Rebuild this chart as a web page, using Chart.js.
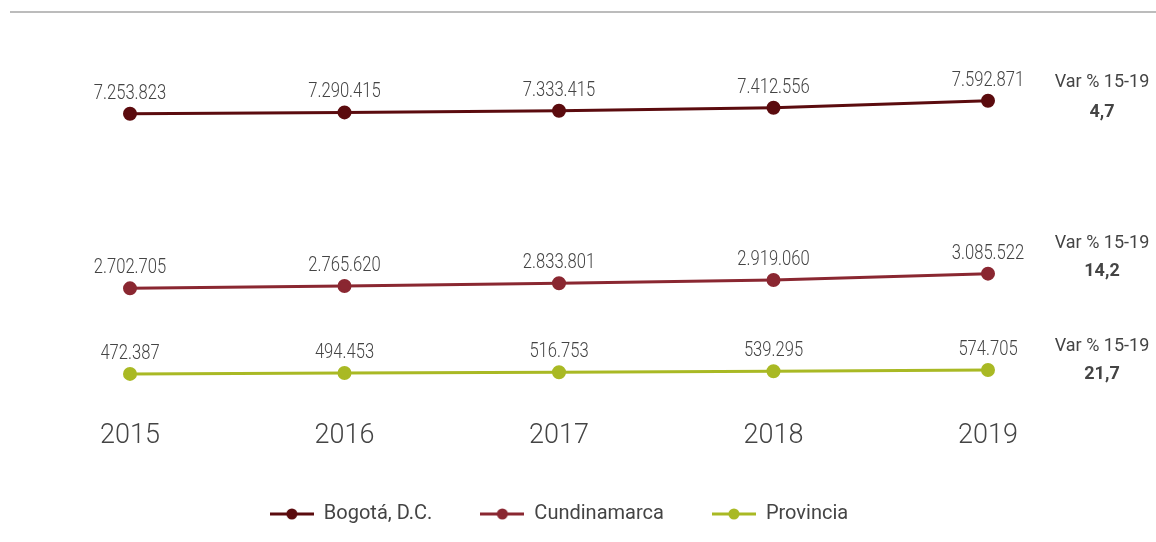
<!DOCTYPE html>
<html>
<head>
<meta charset="utf-8">
<script src="https://cdn.jsdelivr.net/npm/chart.js@4"></script>
<style>
html,body{margin:0;padding:0;background:#fff;}
#wrap{width:1156px;height:542px;position:relative;}
</style>
</head>
<body>
<div id="wrap"><canvas id="c" width="1156" height="542"></canvas></div>
<script>
const years = ['2015', '2016', '2017', '2018', '2019'];
const seriesNames = ['Bogotá, D.C.', 'Cundinamarca', 'Provincia'];
const bogota = [7253823, 7290415, 7333415, 7412556, 7592871];
const cundinamarca = [2702705, 2765620, 2833801, 2919060, 3085522];
const provincia = [472387, 494453, 516753, 539295, 574705];
const varLabel = 'Var % 15-19';
const varValues = ['4,7', '14,2', '21,7'];

const colors = ['#5b0b0e', '#8a2731', '#a9b924'];
const FONT = 'Roboto, "Noto Sans", sans-serif';
const TXT = '#444444';

function fmt(n){ return String(n).replace(/\B(?=(\d{3})+(?!\d))/g, '.'); }

function legendMarker(color){
  const c = document.createElement('canvas');
  c.width = 44; c.height = 14;
  const g = c.getContext('2d');
  g.strokeStyle = color; g.lineWidth = 3;
  g.beginPath(); g.moveTo(0, 7); g.lineTo(44, 7); g.stroke();
  g.fillStyle = color;
  g.beginPath(); g.arc(22, 7, 5.5, 0, Math.PI * 2); g.fill();
  return c;
}
const markers = colors.map(legendMarker);

// pixel placement of the side annotations (layout only)
const varPos = [{y1: 82, y2: 112}, {y1: 243, y2: 271}, {y1: 346, y2: 374}];

function condensedText(ctx, text, x, y, sx){
  ctx.save();
  ctx.translate(x, y);
  ctx.scale(sx, 1);
  ctx.fillText(text, 0, 0);
  ctx.restore();
}

const extras = {
  id: 'extras',
  beforeDraw(chart){
    const ctx = chart.ctx;
    ctx.save();
    ctx.strokeStyle = '#bcbcbc';
    ctx.lineWidth = 2;
    ctx.beginPath(); ctx.moveTo(10, 12); ctx.lineTo(1156, 12); ctx.stroke();
    ctx.restore();
  },
  afterDatasetsDraw(chart){
    const ctx = chart.ctx;
    ctx.save();
    ctx.fillStyle = TXT;
    ctx.textAlign = 'center';
    ctx.textBaseline = 'middle';
    ctx.font = '300 20px ' + FONT;
    chart.data.datasets.forEach((ds, di) => {
      const meta = chart.getDatasetMeta(di);
      meta.data.forEach((pt, i) => {
        condensedText(ctx, fmt(ds.data[i]), pt.x, pt.y - 20, 0.83);
      });
    });
    const cx = 1102;
    varValues.forEach((v, i) => {
      ctx.font = '18px ' + FONT;
      ctx.fillText(varLabel, cx, varPos[i].y1);
      ctx.font = 'bold 18px ' + FONT;
      ctx.fillText(v, cx, varPos[i].y2);
    });
    ctx.restore();
  }
};

new Chart(document.getElementById('c'), {
  type: 'line',
  data: {
    labels: years,
    datasets: [bogota, cundinamarca, provincia].map((d, i) => ({
      label: seriesNames[i],
      data: d,
      borderColor: colors[i],
      backgroundColor: colors[i],
      pointBackgroundColor: colors[i],
      pointBorderColor: colors[i],
      borderWidth: 3,
      pointRadius: 5.5,
      pointHoverRadius: 5.5,
      tension: 0,
      clip: false
    }))
  },
  options: {
    responsive: false,
    animation: false,
    devicePixelRatio: 1,
    layout: { padding: { left: 130, right: 168, top: 20, bottom: 8 } },
    plugins: {
      tooltip: { enabled: false },
      legend: {
        position: 'bottom',
        labels: {
          usePointStyle: true,
          pointStyleWidth: 44,
          padding: 48,
          color: TXT,
          font: { family: FONT, size: 20 },
          generateLabels(chart){
            return chart.data.datasets.map((ds, i) => ({
              text: ds.label,
              fillStyle: colors[i],
              strokeStyle: colors[i],
              lineWidth: 0,
              pointStyle: markers[i],
              hidden: false,
              datasetIndex: i,
              fontColor: TXT
            }));
          }
        }
      }
    },
    scales: {
      x: {
        offset: false,
        grid: { display: false, drawTicks: false },
        border: { display: false },
        ticks: { color: TXT, font: { family: FONT, size: 27, weight: '300' }, padding: 28, maxRotation: 0 },
        afterFit(scale){ scale.height = 64; }
      },
      y: {
        display: false,
        min: 0,
        max: 9700000
      }
    }
  },
  plugins: [extras]
});
</script>
</body>
</html>
